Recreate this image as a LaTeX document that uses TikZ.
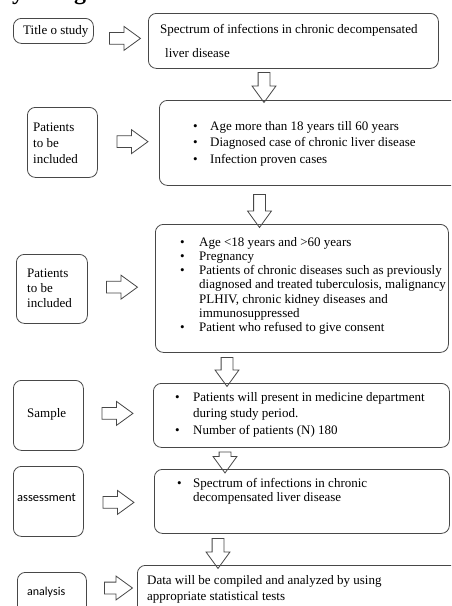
\documentclass[tikz,border=0pt]{standalone}
\usepackage{fontspec}
\setmainfont{Liberation Serif}
\newfontfamily\sansf{Carlito}
\usetikzlibrary{shapes.arrows,calc}
\definecolor{linec}{gray}{0.28}
\tikzset{
  box/.style={draw=linec, line width=0.8pt, rounded corners=8pt, anchor=north west, inner sep=0pt},
  txt/.style={anchor=base west, inner sep=0pt, font=\fontsize{13}{16.5}\selectfont},
  blockarr/.style={single arrow, draw=linec, line width=0.8pt, inner xsep=0pt, inner ysep=5.5pt,
     minimum width=23pt, single arrow head extend=6pt, single arrow tip angle=72},
  rarr/.style={blockarr, minimum height=31pt},
}
\begin{document}
\begin{tikzpicture}[x=1pt,y=-1pt]
\clip (0,0) rectangle (451,606);
\fill[white] (0,0) rectangle (451,606);
% heading, cut off by the top edge
\node[anchor=base west, inner sep=0pt, font=\bfseries\fontsize{24}{28}\selectfont] (head) at (-36,-1) {Study Design};

% left boxes
\node[box, minimum width=80pt, minimum height=25pt] (t1) at (13,18) {};
\node[box, minimum width=70pt, minimum height=70pt] (l2) at (27,107) {};
\node[box, minimum width=71pt, minimum height=69pt] (l3) at (16,254) {};
\node[box, minimum width=70pt, minimum height=70pt] (l4) at (13,380) {};
\node[box, minimum width=70pt, minimum height=70pt] (l5) at (13,466) {};
\node[box, minimum width=69pt, minimum height=70pt] (l6) at (17,572) {};

% right boxes
\node[box, minimum width=290pt, minimum height=55pt] (s1) at (148,13) {};
\node[box, minimum width=310pt, minimum height=85pt] (s2) at (159,100) {};
\node[box, minimum width=293pt, minimum height=128pt] (s3) at (155,224) {};
\node[box, minimum width=296pt, minimum height=64pt] (s4) at (153,383) {};
\node[box, minimum width=295pt, minimum height=64pt] (s5) at (154,469) {};
\node[box, minimum width=330pt, minimum height=70pt] (s6) at (137,565) {};

% left texts
\node[txt] (t1t) at (23,34) {Title o study};
\node[txt, font=\fontsize{13}{16}\selectfont] (l2t) at (33,131) {\begin{tabular}[t]{@{}l@{}}Patients\\to be\\included\end{tabular}};
\node[txt, font=\fontsize{13}{15}\selectfont] (l3t) at (27,277) {\begin{tabular}[t]{@{}l@{}}Patients\\to be\\included\end{tabular}};
\node[txt] (l4t) at (27,417) {Sample};
\node[txt, font=\sansf\fontsize{12.5}{15}\selectfont] (l5t) at (17,501) {assessment};
\node[txt, font=\sansf\fontsize{12}{15}\selectfont] (l6t) at (27,595) {analysis};

% right texts
\node[txt] (s1a) at (160,33) {Spectrum of infections in chronic decompensated};
\node[txt] (s1b) at (165,57) {liver disease};
\node[txt] (s2t) at (193,130) {\begin{tabular}[t]{@{}p{17pt}@{}l@{}}
\textbullet & Age more than 18 years till 60 years\\
\textbullet & Diagnosed case of chronic liver disease\\
\textbullet & Infection proven cases\end{tabular}};
\node[txt, font=\fontsize{13}{14.3}\selectfont] (s3t) at (180,246) {\begin{tabular}[t]{@{}p{19pt}@{}l@{}}
\textbullet & Age <18 years and >60 years\\
\textbullet & Pregnancy\\
\textbullet & Patients of chronic diseases such as previously\\
 & diagnosed and treated tuberculosis, malignancy\\
 & PLHIV, chronic kidney diseases and\\
 & immunosuppressed\\
\textbullet & Patient who refused to give consent\end{tabular}};
\node[txt] (s4t) at (175,401) {\begin{tabular}[t]{@{}p{18pt}@{}l@{}}
\textbullet & Patients will present in medicine department\\
 & during study period.\\
\textbullet & Number of patients (N) 180\end{tabular}};
\node[txt, font=\fontsize{13}{14}\selectfont] (s5t) at (177,487) {\begin{tabular}[t]{@{}p{16pt}@{}l@{}}
\textbullet & Spectrum of infections in chronic\\
 & decompensated liver disease\end{tabular}};
\node[txt, font=\fontsize{13}{16}\selectfont] (s6t) at (147,584) {\begin{tabular}[t]{@{}l@{}}
Data will be compiled and analyzed by using\\
appropriate statistical tests\end{tabular}};

% right arrows
\node[rarr] (a1) at ($(t1.east)!.5!(s1.west)+(0,2.5)$) {};
\node[rarr] (a2) at ($(l2.east)!.5!(s2.west)+(0,-1)$) {};
\node[rarr] (a3) at ($(l3.east)!.5!(s3.west)+(-3.5,-1.5)$) {};
\node[rarr] (a4) at ($(l4.east)!.5!(s4.west)+(-5,-2)$) {};
\node[rarr] (a5) at ($(l5.east)!.5!(s5.west)+(-4.5,1)$) {};
\node[rarr, minimum height=28pt] (a6) at ($(l6.east |- 0,588)!.5!(s6.west |- 0,588)+(2.5,0)$) {};

% down arrows
\node[blockarr, rotate=-90, minimum height=30pt] (d1) at ($(s1.south -| 264,0)!.5!(s2.north -| 264,0)+(0,-1)$) {};
\node[blockarr, rotate=-90, minimum height=33pt] (d2) at ($(s2.south -| 259.5,0)!.5!(s3.north -| 259.5,0)+(0,2)$) {};
\node[blockarr, rotate=-90, minimum height=29pt] (d3) at ($(s3.south -| 227,0)!.5!(s4.north -| 227,0)$) {};
\node[blockarr, rotate=-90, minimum height=21pt] (d4) at ($(s4.south -| 225,0)!.5!(s5.north -| 225,0)$) {};
\node[blockarr, rotate=-90, minimum height=30pt] (d5) at ($(s5.south -| 218,0)!.5!(s6.north -| 218,0)$) {};
\end{tikzpicture}
\end{document}
